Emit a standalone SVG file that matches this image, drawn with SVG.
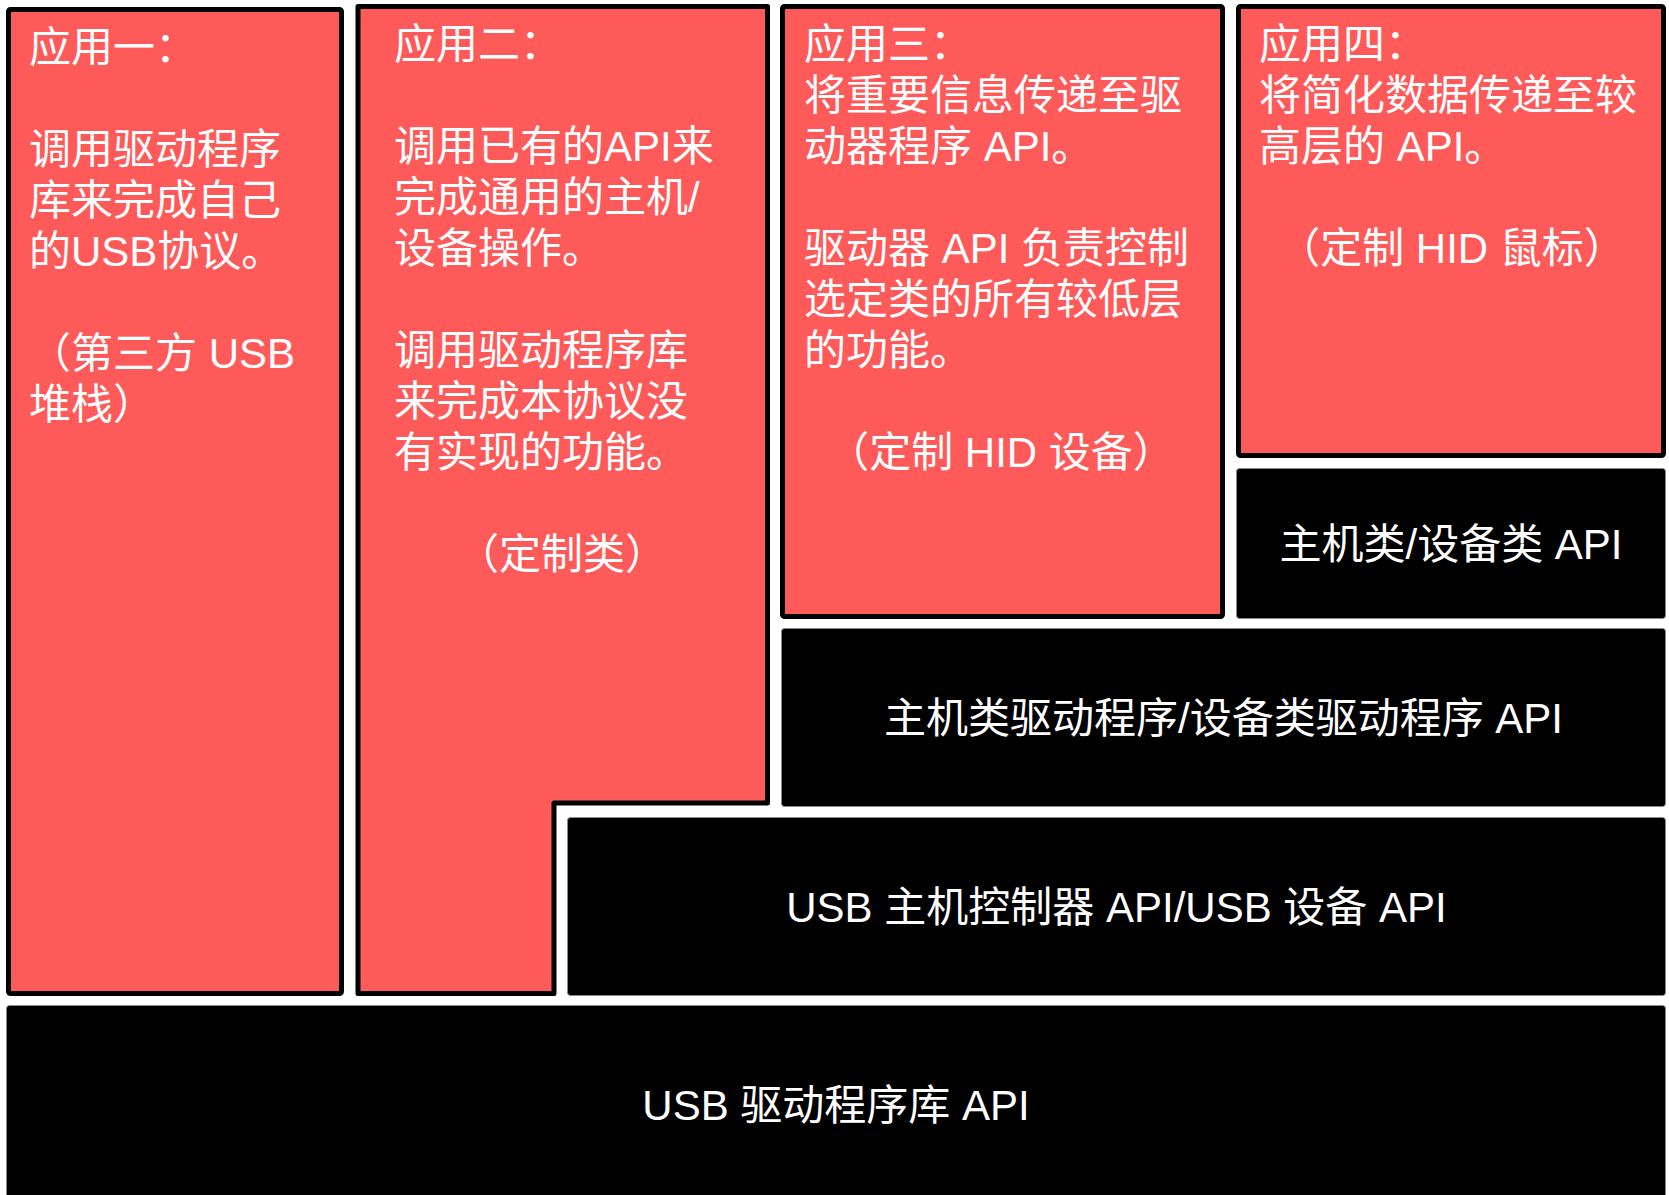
<svg xmlns="http://www.w3.org/2000/svg" width="1669" height="1195" viewBox="0 0 1669 1195">
<style>
.app{fill:#FF5A5A;stroke:#000;stroke-width:5;stroke-linejoin:round}
.api{fill:#000;stroke:#8a8a8a;stroke-width:1}
text{font-family:"Liberation Sans","Noto Sans CJK SC",sans-serif;font-size:42px;fill:#fff}
.c{text-anchor:middle}
</style>
<rect width="1669" height="1195" fill="#fff"/>
<g id="app1">
<rect class="app" x="8.5" y="9.5" width="333" height="984" rx="2"/>
<text x="29" y="62">应用一：</text>
<text x="29" y="164">调用驱动程序</text>
<text x="29" y="215">库来完成自己</text>
<text x="29" y="266">的USB协议。</text>
<text x="29" y="368">（第三方 USB</text>
<text x="29" y="419">堆栈）</text>
</g>
<g id="app2">
<path class="app" d="M358 6.5 H767.5 V803 H554 V993.5 H358 Z"/>
<text x="394" y="59">应用二：</text>
<text x="394" y="161">调用已有的API来</text>
<text x="394" y="212">完成通用的主机/</text>
<text x="394" y="263">设备操作。</text>
<text x="394" y="365">调用驱动程序库</text>
<text x="394" y="416">来完成本协议没</text>
<text x="394" y="467">有实现的功能。</text>
<text class="c" x="562" y="569">（定制类）</text>
</g>
<g id="app3">
<rect class="app" x="782.5" y="6.5" width="440" height="610" rx="2"/>
<text x="804" y="59">应用三：</text>
<text x="804" y="110">将重要信息传递至驱</text>
<text x="804" y="161">动器程序 API。</text>
<text x="804" y="263">驱动器 API 负责控制</text>
<text x="804" y="314">选定类的所有较低层</text>
<text x="804" y="365">的功能。</text>
<text class="c" x="1001" y="467">（定制 HID 设备）</text>
</g>
<g id="app4">
<rect class="app" x="1238.5" y="6.5" width="425" height="449" rx="2"/>
<text x="1259" y="59">应用四：</text>
<text x="1259" y="110">将简化数据传递至较</text>
<text x="1259" y="161">高层的 API。</text>
<text class="c" x="1452" y="263">（定制 HID 鼠标）</text>
</g>
<g id="class-api">
<rect class="api" x="1236.5" y="468.5" width="429" height="150" rx="3"/>
<text class="c" x="1451" y="559">主机类/设备类 API</text>
</g>
<g id="class-driver-api">
<rect class="api" x="781.5" y="628.5" width="884" height="178" rx="3"/>
<text class="c" x="1223.5" y="733">主机类驱动程序/设备类驱动程序 API</text>
</g>
<g id="usb-host-device-api">
<rect class="api" x="567.5" y="817.5" width="1098" height="178" rx="3"/>
<text class="c" x="1116.5" y="922">USB 主机控制器 API/USB 设备 API</text>
</g>
<g id="usb-driver-lib-api">
<rect class="api" x="6.5" y="1005.5" width="1659" height="200" rx="3"/>
<text class="c" x="836" y="1120">USB 驱动程序库 API</text>
</g>
<g id="connectors"></g>
</svg>
